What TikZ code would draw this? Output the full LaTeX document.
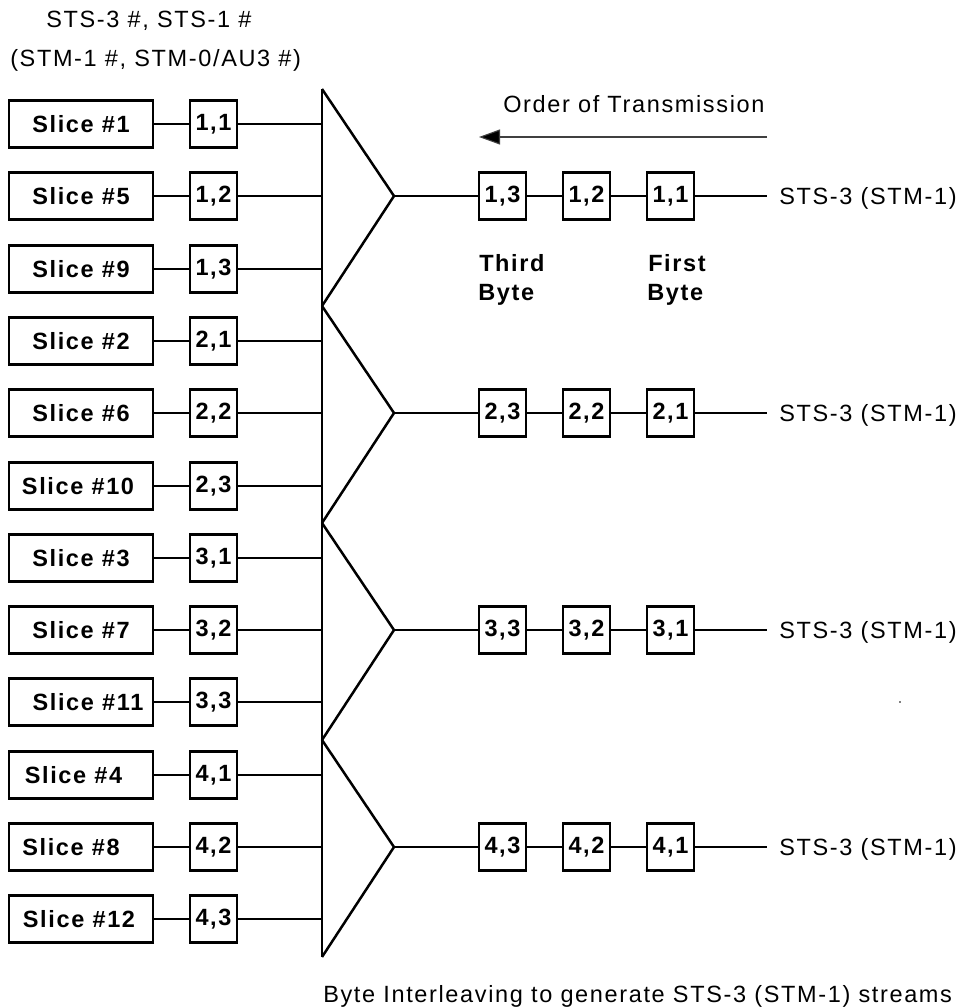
\documentclass[tikz,border=0pt]{standalone}
\usepackage{fontspec}
\setmainfont{Liberation Sans}[LetterSpace=7]
\usetikzlibrary{arrows.meta}
\newcommand{\fs}{\fontsize{23.5}{29}\selectfont}
\begin{document}
\begin{tikzpicture}[x=1pt,y=-1pt,line width=2.5pt,
  every node/.style={inner sep=0pt,font=\fs},
  slicebox/.style={draw,minimum width=144pt,minimum height=47pt,font=\fs\bfseries},
  bytebox/.style={draw,minimum width=47pt,minimum height=47pt,font=\fs\bfseries},
  txt/.style={anchor=base west,font=\fs},
  btxt/.style={anchor=base west,font=\fs\bfseries},
  orderarrow/.style={line width=1.1pt,draw=black!75,-{Triangle[length=21pt,width=15pt,fill=black]}}]
\useasboundingbox (0,0) rectangle (964,1008);

% header
\node[txt] (h1) at (45,28) {STS-3 \#, STS-1 \#};
\node[txt] (h2) at (9,67) {(STM-1 \#, STM-0/AU3 \#)};

% bar junctions
\foreach \g in {0,...,4}{
  \pgfmathsetmacro\jy{round(89+216.9*\g)}
  \coordinate (j\g) at (322,\jy);
}
\draw (j0) -- (j4);

% inputs
\foreach \i/\s/\d in {0/1/0,1/5/0,2/9/0,3/2/0,4/6/0,5/10/-6,6/3/0,7/7/0,8/11/14,9/4/-15,10/8/-20,11/12/-4}{
  \pgfmathsetmacro\yy{round(124+72.3*\i)}
  \pgfmathtruncatemacro\gg{int(\i/3)+1}
  \pgfmathtruncatemacro\kk{mod(\i,3)+1}
  \node[slicebox] (s\i) at (81,\yy) {\kern\d pt Slice \#\s};
  \node[bytebox] (b\i) at (213.5,\yy) {\gg,\kk};
  \draw (s\i) -- (b\i);
  \draw (b\i) -- (b\i -| j0);
}

% triangles and outputs
\foreach \g/\h in {0/1,1/2,2/3,3/4}{
  \pgfmathsetmacro\ay{round(124+72.3*(3*\g+1))}
  \coordinate (a\g) at (394,\ay);
  \draw[line join=miter] (j\g) -- (a\g) -- (j\h);
  \node[bytebox] (o\g c) at (502.5,\ay) {\h,3};
  \node[bytebox] (o\g b) at (586.5,\ay) {\h,2};
  \node[bytebox] (o\g a) at (670.5,\ay) {\h,1};
  \node[txt] (c\g) at (778,{\ay+8.3}) {STS-3 (STM-1)};
  \coordinate (e\g) at (767,\ay);
  \draw (a\g) -- (o\g c) -- (o\g b) -- (o\g a) -- (e\g);
}

% order of transmission
\node[txt] (ord) at (502,113) {Order of Transmission};
\coordinate (arrR) at (767,137);
\coordinate (arrL) at (479,137);
\draw[orderarrow] (arrR) -- (arrL);

\node[btxt] (third) at (478,271) {Third};
\node[btxt] (byte3) at (477,300) {Byte};
\node[btxt] (first) at (647,271) {First};
\node[btxt] (byte1) at (646,300) {Byte};

% stray dot
\fill[black!50] (899,701) rectangle (901,703);

% caption
\node[txt] (cap) at (322,1002) {Byte Interleaving to generate STS-3 (STM-1) streams};
\end{tikzpicture}
\end{document}
